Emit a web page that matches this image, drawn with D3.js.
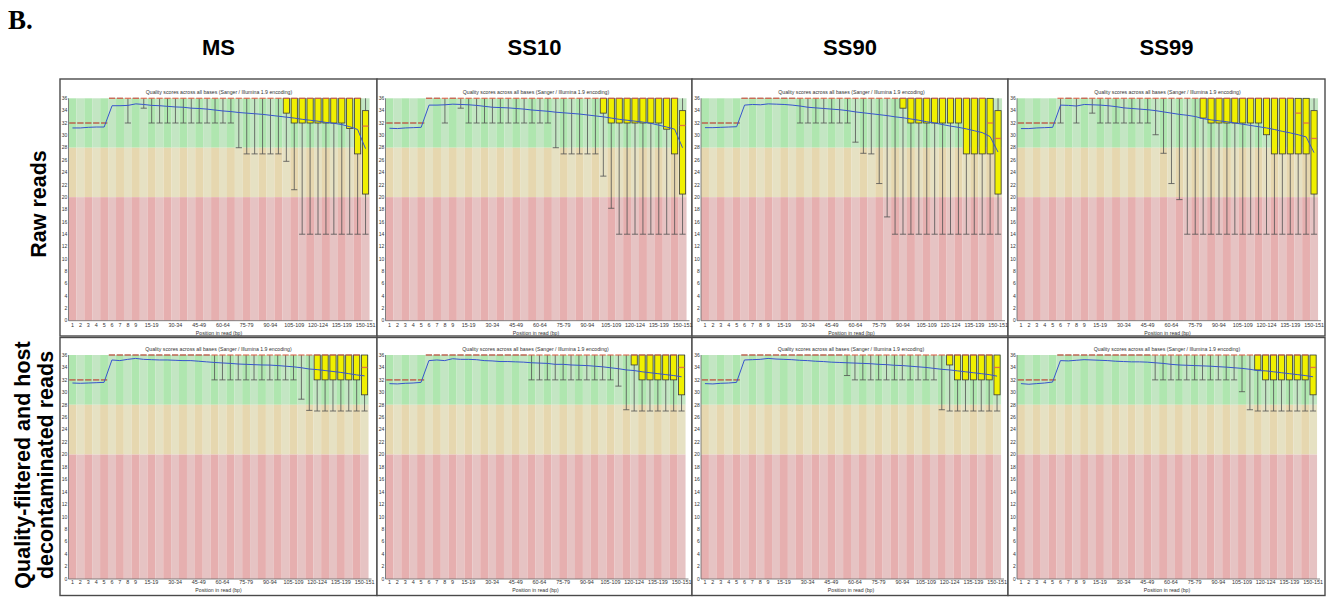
<!DOCTYPE html>
<html>
<head>
<meta charset="utf-8">
<script src="https://cdn.jsdelivr.net/npm/d3@7"></script>
<style>
  html, body { margin: 0; padding: 0; background: #fff; }
  svg { display: block; }
</style>
</head>
<body>
<svg id="fig" width="1333" height="598"></svg>
<script>
// ---- Data: per-base quality (FastQC style), positions grouped after base 9 ----
const categories = ["1","2","3","4","5","6","7","8","9","10-14","15-19","20-24","25-29","30-34",
  "35-39","40-44","45-49","50-54","55-59","60-64","65-69","70-74","75-79","80-84","85-89",
  "90-94","95-99","100-104","105-109","110-114","115-119","120-124","125-129","130-134",
  "135-139","140-144","145-149","150-151"];
const xTickLabels = ["1","2","3","4","5","6","7","8","9","15-19","30-34","45-49","60-64",
  "75-79","90-94","105-109","120-124","135-139","150-151"];
const yTicks = [0,2,4,6,8,10,12,14,16,18,20,22,24,26,28,30,32,34,36];
const sampleNames = ["MS","SS10","SS90","SS99"];
const rowLabels = [["Raw reads"], ["Quality-filtered and host","decontaminated reads"]];
const plotTitle = "Quality scores across all bases (Sanger / Illumina 1.9 encoding)";
const xAxisTitle = "Position in read (bp)";

// 90th percentile (upper whisker) – identical for every sample
const upperWhisker = [32,32,32,32,32,
  36,36,36,36,36,
  36,36,36,36,36,36,36,36,36,36,
  36,36,36,36,36,36,36,36,36,36,
  36,36,36,36,36,36,36,36];
// upper quartile
const rawUpperQuartile = [32,32,32,32,32,
  36,36,36,36,36,
  36,36,36,36,36,36,36,36,36,36,
  36,36,36,36,36,36,36,36,36,36,
  36,36,36,36,36,36,36,34];
const qcUpperQuartile = [32,32,32,32,32,
  36,36,36,36,36,
  36,36,36,36,36,36,36,36,36,36,
  36,36,36,36,36,36,36,36,36,36,
  36,36,36,36,36,36,36,36];

// ---- Raw reads: MS ----
const rawMS_mean = [31.2,31.2,31.3,31.35,31.35,
  34.8,34.8,34.85,35.1,35.0,
  34.85,34.8,34.7,34.6,34.55,34.4,34.35,34.25,34.1,33.95,
  33.85,33.7,33.6,33.5,33.4,33.25,33.1,32.95,32.8,32.6,
  32.45,32.3,32.1,31.95,31.75,31.4,30.95,27.85];
const rawMS_median = [32,32,32,32,32,
  36,36,36,36,36,
  36,36,36,36,36,36,36,36,36,36,
  36,36,36,36,36,36,36,36,36,36,
  36,36,36,36,36,36,36,31.5];
const rawMS_lowerQuartile = [32,32,32,32,32,
  36,36,36,36,36,
  36,36,36,36,36,36,36,36,36,36,
  36,36,36,36,36,36,36,33.6,32,32,
  32,32,32,32,32,31.1,27,20.5];
const rawMS_p10 = [32,32,32,32,32,
  36,36,32,36,34.4,
  32,32,32,32,32,32,32,32,32,32,
  32,28,27,27,27,27,27,25.8,21.2,14,
  14,14,14,14,14,14,14,14];

// ---- Raw reads: SS10 ----
const rawSS10_mean = [31.15,31.1,31.2,31.25,31.3,
  34.9,34.9,34.95,35.05,35.0,
  34.95,34.85,34.7,34.55,34.5,34.45,34.35,34.25,34.1,34.0,
  33.9,33.75,33.65,33.55,33.45,33.3,33.15,33.0,32.8,32.6,
  32.45,32.3,32.15,31.95,31.65,31.35,31.0,28.0];
const rawSS10_median = [32,32,32,32,32,
  36,36,36,36,36,
  36,36,36,36,36,36,36,36,36,36,
  36,36,36,36,36,36,36,36,36,36,
  36,36,36,36,36,36,36,31.6];
const rawSS10_lowerQuartile = [32,32,32,32,32,
  36,36,36,36,36,
  36,36,36,36,36,36,36,36,36,36,
  36,36,36,36,36,36,36,33.6,32,32,
  32,32,32,32,32,31.0,27,20.5];
const rawSS10_p10 = [32,32,32,32,32,
  36,36,32,36,34.4,
  32,32,32,32,32,32,32,32,32,32,
  32,28,27,27,27,27,27,23.4,18.2,14,
  14,14,14,14,14,14,14,14];

// ---- Raw reads: SS90 ----
const rawSS90_mean = [31.25,31.25,31.3,31.35,31.4,
  34.9,35.0,34.95,35.1,35.05,
  35.0,34.9,34.75,34.55,34.45,34.35,34.25,34.15,34.0,33.8,
  33.65,33.5,33.35,33.2,33.0,32.85,32.65,32.45,32.2,32.0,
  31.75,31.5,31.3,31.05,30.75,30.45,29.8,27.3];
const rawSS90_median = [32,32,32,32,32,
  36,36,36,36,36,
  36,36,36,36,36,36,36,36,36,36,
  36,36,36,36,36,36,36,36,36,36,
  36,36,36,36,36,36,32,29.5];
const rawSS90_lowerQuartile = [32,32,32,32,32,
  36,36,36,36,36,
  36,36,36,36,36,36,36,36,36,36,
  36,36,36,36,36,34.4,32,32,32,32,
  32,32,32,27,27,27,27,20.5];
const rawSS90_p10 = [32,32,32,32,32,
  36,36,36,36,36,
  36,36,32,32,32,32,32,32,32,28.9,
  27.1,27,22.2,16.8,14,14,14,14,14,14,
  14,14,14,14,14,14,14,14];

// ---- Raw reads: SS99 ----
const rawSS99_mean = [31.1,31.1,31.2,31.25,31.3,
  34.9,34.85,34.75,35.0,34.95,
  34.9,34.8,34.65,34.45,34.35,34.25,34.15,34.0,33.8,33.6,
  33.4,33.25,33.05,32.7,32.5,32.35,32.2,32.0,31.8,31.6,
  31.4,31.2,30.95,30.65,30.4,30.1,29.75,27.2];
const rawSS99_median = [32,32,32,32,32,
  36,36,36,36,36,
  36,36,36,36,36,36,36,36,36,36,
  36,36,36,36,36,36,36,36,36,36,
  36,36,36,36,36,33.6,32,29.5];
const rawSS99_lowerQuartile = [32,32,32,32,32,
  36,36,36,36,36,
  36,36,36,36,36,36,36,36,36,36,
  36,36,36,32.8,32,32,32,32,32,32,
  32,30.1,27,27,27,27,27,20.5];
const rawSS99_p10 = [32,32,32,32,32,
  32,36,32,36,33.6,
  32,32,32,32,32,32,32,30.1,27.1,22.2,
  19.6,14,14,14,14,14,14,14,14,14,
  14,14,14,14,14,14,14,14];

// ---- Filtered / decontaminated reads: MS ----
const qcMS_mean = [31.5,31.45,31.5,31.55,31.6,
  35.2,35.1,35.3,35.45,35.3,
  35.25,35.2,35.2,35.15,35.1,35.1,35.0,34.9,34.8,34.72,
  34.65,34.55,34.5,34.45,34.4,34.38,34.3,34.2,34.1,33.95,
  33.75,33.65,33.5,33.35,33.2,33.0,32.8,32.65];
const qcMS_median = [32,32,32,32,32,
  36,36,36,36,36,
  36,36,36,36,36,36,36,36,36,36,
  36,36,36,36,36,36,36,36,36,36,
  36,36,36,36,36,36,36,34];
const qcMS_lowerQuartile = [32,32,32,32,32,
  36,36,36,36,36,
  36,36,36,36,36,36,36,36,36,36,
  36,36,36,36,36,36,36,36,36,36,
  36,32,32,32,32,32,32,29.6];
const qcMS_p10 = [32,32,32,32,32,
  36,36,36,36,36,
  36,36,36,36,36,36,36,36,32,32,
  32,32,32,32,32,32,32,32,32,28.9,
  27.1,27,27,27,27,27,27,27];

// ---- Filtered / decontaminated reads: SS10 ----
const qcSS10_mean = [31.4,31.35,31.45,31.5,31.6,
  35.1,35.2,35.1,35.4,35.3,
  35.3,35.25,35.1,35.05,34.95,34.95,34.9,34.85,34.75,34.7,
  34.65,34.5,34.5,34.4,34.35,34.3,34.2,34.1,33.95,33.8,
  33.6,33.5,33.3,33.15,33.0,32.85,32.7,32.5];
const qcSS10_median = [32,32,32,32,32,
  36,36,36,36,36,
  36,36,36,36,36,36,36,36,36,36,
  36,36,36,36,36,36,36,36,36,36,
  36,36,36,36,36,36,36,34];
const qcSS10_lowerQuartile = [32,32,32,32,32,
  36,36,36,36,36,
  36,36,36,36,36,36,36,36,36,36,
  36,36,36,36,36,36,36,36,36,36,
  36,34.4,32,32,32,32,32,29.6];
const qcSS10_p10 = [32,32,32,32,32,
  36,36,36,36,36,
  36,36,36,36,36,36,36,36,32,32,
  32,32,32,32,32,32,32,32,32,31,
  27.2,27,27,27,27,27,27,27];

// ---- Filtered / decontaminated reads: SS90 ----
const qcSS90_mean = [31.4,31.35,31.45,31.5,31.6,
  35.2,35.25,35.3,35.45,35.35,
  35.3,35.25,35.15,35.1,35.0,34.95,34.85,34.8,34.75,34.7,
  34.65,34.6,34.5,34.45,34.35,34.3,34.2,34.1,34.0,33.85,
  33.7,33.6,33.45,33.3,33.15,33.0,32.85,32.6];
const qcSS90_median = [32,32,32,32,32,
  36,36,36,36,36,
  36,36,36,36,36,36,36,36,36,36,
  36,36,36,36,36,36,36,36,36,36,
  36,36,36,36,36,36,36,34];
const qcSS90_lowerQuartile = [32,32,32,32,32,
  36,36,36,36,36,
  36,36,36,36,36,36,36,36,36,36,
  36,36,36,36,36,36,36,36,36,36,
  36,34.4,32,32,32,32,32,29.6];
const qcSS90_p10 = [32,32,32,32,32,
  36,36,36,36,36,
  36,36,36,36,36,36,36,36,32.7,32,
  32,32,32,32,32,32,32,32,32,32,
  27.2,27,27,27,27,27,27,27];

// ---- Filtered / decontaminated reads: SS99 ----
const qcSS99_mean = [31.4,31.3,31.4,31.5,31.65,
  35.1,35.05,35.15,35.25,35.2,
  35.15,35.1,35.0,34.95,34.9,34.9,34.85,34.75,34.65,34.5,
  34.4,34.35,34.3,34.25,34.2,34.12,34.05,33.95,33.85,33.7,
  33.5,33.45,33.3,33.15,33.0,32.85,32.7,32.5];
const qcSS99_median = [32,32,32,32,32,
  36,36,36,36,36,
  36,36,36,36,36,36,36,36,36,36,
  36,36,36,36,36,36,36,36,36,36,
  36,36,36,36,36,36,36,34];
const qcSS99_lowerQuartile = [32,32,32,32,32,
  36,36,36,36,36,
  36,36,36,36,36,36,36,36,36,36,
  36,36,36,36,36,36,36,36,36,36,
  33.6,32,32,32,32,32,32,29.6];
const qcSS99_p10 = [32,32,32,32,32,
  36,36,36,36,36,
  36,36,36,36,36,36,36,32,32,32,
  32,32,32,32,32,32,32,32,30.1,27.2,
  27,27,27,27,27,27,27,27];

const panels = [
  {row:0, col:0, mean:rawMS_mean,   median:rawMS_median,   q1:rawMS_lowerQuartile,   q3:rawUpperQuartile, p10:rawMS_p10,   p90:upperWhisker},
  {row:0, col:1, mean:rawSS10_mean, median:rawSS10_median, q1:rawSS10_lowerQuartile, q3:rawUpperQuartile, p10:rawSS10_p10, p90:upperWhisker},
  {row:0, col:2, mean:rawSS90_mean, median:rawSS90_median, q1:rawSS90_lowerQuartile, q3:rawUpperQuartile, p10:rawSS90_p10, p90:upperWhisker},
  {row:0, col:3, mean:rawSS99_mean, median:rawSS99_median, q1:rawSS99_lowerQuartile, q3:rawUpperQuartile, p10:rawSS99_p10, p90:upperWhisker},
  {row:1, col:0, mean:qcMS_mean,    median:qcMS_median,    q1:qcMS_lowerQuartile,    q3:qcUpperQuartile,  p10:qcMS_p10,    p90:upperWhisker},
  {row:1, col:1, mean:qcSS10_mean,  median:qcSS10_median,  q1:qcSS10_lowerQuartile,  q3:qcUpperQuartile,  p10:qcSS10_p10,  p90:upperWhisker},
  {row:1, col:2, mean:qcSS90_mean,  median:qcSS90_median,  q1:qcSS90_lowerQuartile,  q3:qcUpperQuartile,  p10:qcSS90_p10,  p90:upperWhisker},
  {row:1, col:3, mean:qcSS99_mean,  median:qcSS99_median,  q1:qcSS99_lowerQuartile,  q3:qcUpperQuartile,  p10:qcSS99_p10,  p90:upperWhisker}
];

// ---- Layout ----
const colEdges = [60, 377, 692, 1008, 1325];
const rowFrames = [{y0: 79, y1: 336}, {y0: 337.5, y1: 595.5}];
const plotLefts = [68.5, 385.5, 701, 1017];
const rows = [
  {top: 98.3, bottom: 320.7, width: 301, titleY: 94, tickY: 327.2, axisTitleY: 334.6},
  {top: 355,  bottom: 579,   width: 300, titleY: 351, tickY: 583.8, axisTitleY: 591.6}
];
const zones = [
  {lo: 28, hi: 36, fill: ["rgb(175,230,175)", "rgb(195,230,195)"]},
  {lo: 20, hi: 28, fill: ["rgb(230,215,175)", "rgb(230,225,195)"]},
  {lo: 0,  hi: 20, fill: ["rgb(230,175,175)", "rgb(230,195,195)"]}
];
const smallFont = "'Liberation Sans', Arial, sans-serif";

const svg = d3.select("#fig");

// panel frames
rowFrames.forEach(rf => {
  for (let c = 0; c < 4; c++) {
    svg.append("rect")
      .attr("x", colEdges[c]).attr("y", rf.y0)
      .attr("width", colEdges[c+1] - colEdges[c]).attr("height", rf.y1 - rf.y0)
      .attr("fill", "#fff").attr("stroke", "#4a4a4a").attr("stroke-width", 1.4);
  }
});

function drawPanel(p) {
  const r = rows[p.row];
  const left = plotLefts[p.col];
  const x = d3.scaleBand().domain(categories).range([left, left + r.width]).padding(0);
  const y = d3.scaleLinear().domain([0, 36]).range([r.bottom, r.top]);
  const bw = x.bandwidth();
  const boxW = bw * 0.78;
  const g = svg.append("g");

  // banded background (good / reasonable / poor)
  zones.forEach(z => {
    g.append("g").selectAll("rect").data(categories).join("rect")
      .attr("x", d => x(d)).attr("width", bw + 0.05)
      .attr("y", y(z.hi)).attr("height", y(z.lo) - y(z.hi))
      .attr("fill", (d, i) => z.fill[i % 2]);
  });

  const stats = categories.map((c, i) => ({
    c, i, mean: p.mean[i], median: p.median[i], q1: p.q1[i], q3: p.q3[i], p10: p.p10[i], p90: p.p90[i]
  }));
  const cx = d => x(d.c) + bw / 2;

  // whiskers
  const wh = g.append("g").attr("stroke", "#505050").attr("stroke-width", 0.8);
  wh.selectAll("line.lo").data(stats.filter(d => d.p10 < d.q1)).join("line")
    .attr("x1", cx).attr("x2", cx).attr("y1", d => y(d.q1)).attr("y2", d => y(d.p10));
  wh.selectAll("line.hi").data(stats.filter(d => d.p90 > d.q3)).join("line")
    .attr("x1", cx).attr("x2", cx).attr("y1", d => y(d.q3)).attr("y2", d => y(d.p90));
  wh.selectAll("line.capLo").data(stats).join("line")
    .attr("x1", d => cx(d) - boxW / 2).attr("x2", d => cx(d) + boxW / 2)
    .attr("y1", d => y(d.p10)).attr("y2", d => y(d.p10));

  // interquartile boxes
  g.append("g").selectAll("rect").data(stats.filter(d => d.q3 > d.q1)).join("rect")
    .attr("x", d => cx(d) - boxW / 2).attr("width", boxW)
    .attr("y", d => y(d.q3)).attr("height", d => y(d.q1) - y(d.q3))
    .attr("fill", "rgb(240,240,0)").attr("stroke", "#3a3a3a").attr("stroke-width", 0.8);

  // medians
  g.append("g").selectAll("line").data(stats).join("line")
    .attr("x1", d => cx(d) - boxW / 2).attr("x2", d => cx(d) + boxW / 2)
    .attr("y1", d => y(d.median)).attr("y2", d => y(d.median))
    .attr("stroke", "rgb(222,100,75)").attr("stroke-width", 1.3).attr("stroke-opacity", 0.85);

  // mean line
  g.append("path").datum(stats)
    .attr("d", d3.line().x(cx).y(d => y(d.mean)))
    .attr("fill", "none").attr("stroke", "rgb(55,85,205)").attr("stroke-width", 1);

  // axes lines
  g.append("line").attr("x1", left).attr("x2", left).attr("y1", r.top).attr("y2", r.bottom)
    .attr("stroke", "#666").attr("stroke-width", 0.8);
  g.append("line").attr("x1", left).attr("x2", left + r.width + 3).attr("y1", r.bottom).attr("y2", r.bottom)
    .attr("stroke", "#666").attr("stroke-width", 0.8);

  // y tick labels
  g.append("g").selectAll("text").data(yTicks).join("text")
    .attr("x", left - 1.3).attr("y", d => y(d)).attr("dy", "0.35em")
    .attr("text-anchor", "end").attr("font-family", smallFont).attr("font-size", 5)
    .attr("fill", "#333").text(d => d);

  // x tick labels
  g.append("g").selectAll("text").data(xTickLabels).join("text")
    .attr("x", d => x(d) + bw / 2).attr("y", r.tickY)
    .attr("text-anchor", "middle").attr("font-family", smallFont).attr("font-size", 5.4)
    .attr("fill", "#333").text(d => d);

  // titles
  g.append("text").attr("x", left + r.width / 2).attr("y", r.titleY)
    .attr("text-anchor", "middle").attr("font-family", smallFont).attr("font-size", 5.2)
    .attr("fill", "#333").text(plotTitle);
  g.append("text").attr("x", left + r.width / 2).attr("y", r.axisTitleY)
    .attr("text-anchor", "middle").attr("font-family", smallFont).attr("font-size", 5.2)
    .attr("fill", "#333").text(xAxisTitle);
}

panels.forEach(drawPanel);

// column headings
sampleNames.forEach((name, c) => {
  svg.append("text")
    .attr("x", (colEdges[c] + colEdges[c+1]) / 2).attr("y", 55)
    .attr("text-anchor", "middle")
    .attr("font-family", "'Liberation Sans', Arial, sans-serif")
    .attr("font-weight", "bold").attr("font-size", 22)
    .attr("fill", "#000").text(name);
});

// row labels (rotated)
const rowLabelPos = [{cy: 204, baselines: [46]}, {cy: 465, baselines: [29.5, 52.5]}];
rowLabels.forEach((lines, r) => {
  lines.forEach((txt, k) => {
    const bx = rowLabelPos[r].baselines[k];
    const cy = rowLabelPos[r].cy;
    svg.append("text")
      .attr("transform", `translate(${bx},${cy}) rotate(-90)`)
      .attr("text-anchor", "middle")
      .attr("font-family", "'Liberation Sans', Arial, sans-serif")
      .attr("font-weight", "bold").attr("font-size", 21.5)
      .attr("fill", "#000").text(txt);
  });
});

// figure panel letter
svg.append("text").attr("x", 8).attr("y", 29)
  .attr("font-family", "'Liberation Serif', 'Times New Roman', serif")
  .attr("font-weight", "bold").attr("font-size", 27)
  .attr("fill", "#000").text("B.");
</script>
</body>
</html>
